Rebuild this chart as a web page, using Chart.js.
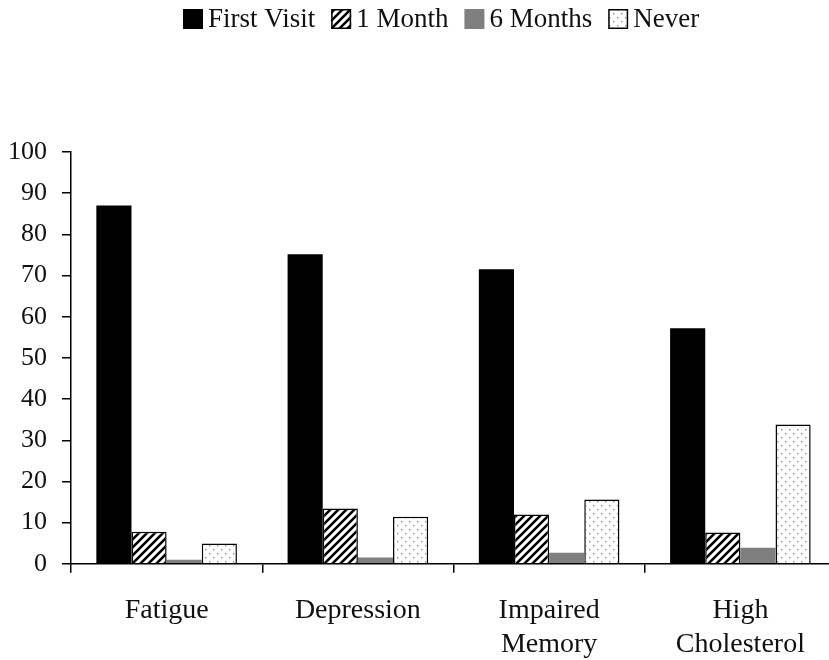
<!DOCTYPE html>
<html>
<head>
<meta charset="utf-8">
<script src="https://cdn.jsdelivr.net/npm/chart.js@4"></script>
<style>
  html, body { margin: 0; padding: 0; background: #fff; overflow: hidden; }
  #wrap { width: 829px; height: 660px; overflow: hidden; }
  canvas { display: block; }
</style>
</head>
<body>
<div id="wrap"><canvas id="bar-chart" width="836" height="660"></canvas></div>
<script>
var categorias = ['Fatigue', 'Depression', ['Impaired', 'Memory'], ['High', 'Cholesterol']];
var firstVisit = [87, 75.2, 71.5, 57.2];
var oneMonth = [7.8, 13.4, 12, 7.6];
var sixMonths = [1, 1.5, 2.7, 3.9];
var never = [4.9, 11.4, 15.6, 33.8];
var yTicks = [0, 10, 20, 30, 40, 50, 60, 70, 80, 90, 100];

var fuente = '"Liberation Serif", "Times New Roman", serif';

// patrones de relleno
function patronRayas(){
  var c = document.createElement('canvas');
  c.width = 8; c.height = 8;
  var g = c.getContext('2d');
  g.fillStyle = '#fff';
  g.fillRect(0, 0, 8, 8);
  g.strokeStyle = '#000';
  g.lineWidth = 2.6;
  g.beginPath();
  g.moveTo(-2, 10); g.lineTo(10, -2);
  g.moveTo(-2, 2); g.lineTo(2, -2);
  g.moveTo(6, 10); g.lineTo(10, 6);
  g.stroke();
  return g.createPattern(c, 'repeat');
}

function patronPuntos(){
  var c = document.createElement('canvas');
  c.width = 8; c.height = 8;
  var g = c.getContext('2d');
  g.fillStyle = '#fff';
  g.fillRect(0, 0, 8, 8);
  g.fillStyle = '#8a8a8a';
  g.fillRect(1, 1, 1.4, 1.4);
  g.fillRect(5, 5, 1.4, 1.4);
  return g.createPattern(c, 'repeat');
}

var rayas = patronRayas();
var puntos = patronPuntos();

// leyenda dibujada a mano arriba del grafico
var leyenda = {
  id: 'leyenda',
  afterDraw: function(chart){
    var ctx = chart.ctx;
    ctx.save();
    ctx.font = '27px ' + fuente;
    ctx.textBaseline = 'middle';
    var x = 183, y = 19;
    chart.data.datasets.forEach(function(ds){
      ctx.fillStyle = ds.backgroundColor;
      ctx.fillRect(x, y - 10, 20, 20);
      ctx.strokeStyle = '#000';
      ctx.lineWidth = 1.5;
      if (ds.label != '6 Months') ctx.strokeRect(x + 0.75, y - 9.25, 18.5, 18.5);
      ctx.fillStyle = '#111';
      ctx.fillText(ds.label, x + 25, y + 1);
      x += 25 + ctx.measureText(ds.label).width + 16;
    });
    ctx.restore();
  }
};

var chartdata = {
  labels: categorias,
  datasets: [
    { label: 'First Visit', data: firstVisit, backgroundColor: '#000', borderColor: '#000', borderWidth: 0 },
    { label: '1 Month', data: oneMonth, backgroundColor: rayas, borderColor: '#000', borderWidth: 1.5 },
    { label: '6 Months', data: sixMonths, backgroundColor: '#7f7f7f', borderColor: '#7f7f7f', borderWidth: 0 },
    { label: 'Never', data: never, backgroundColor: puntos, borderColor: '#000', borderWidth: 1.5 }
  ]
};

var ctx = document.getElementById('bar-chart');

var barGraph = new Chart(ctx, {
  type: 'bar',
  data: chartdata,
  plugins: [leyenda],
  options: {
    responsive: false,
    animation: false,
    events: [],
    layout: { padding: { top: 152, left: -7, right: 0, bottom: -22 } },
    datasets: { bar: { barPercentage: 1, categoryPercentage: 0.735 } },
    plugins: { legend: { display: false }, tooltip: { enabled: false } },
    scales: {
      x: {
        offset: true,
        grid: { offset: true, drawOnChartArea: false, drawTicks: true, tickLength: 9, color: '#000', lineWidth: 1.5 },
        border: { display: true, color: '#000', width: 1.5 },
        ticks: { color: '#111', padding: 21, maxRotation: 0, autoSkip: false, font: { family: fuente, size: 28 } }
      },
      y: {
        min: 0,
        max: 100,
        afterBuildTicks: function(axis){
          axis.ticks = yTicks.map(function(v){ return { value: v }; });
        },
        grid: { drawOnChartArea: false, drawTicks: true, tickLength: 9, color: '#000', lineWidth: 1.5 },
        border: { display: true, color: '#000', width: 1.5 },
        ticks: { color: '#111', padding: 15, font: { family: fuente, size: 26 } }
      }
    }
  }
});
</script>
</body>
</html>
